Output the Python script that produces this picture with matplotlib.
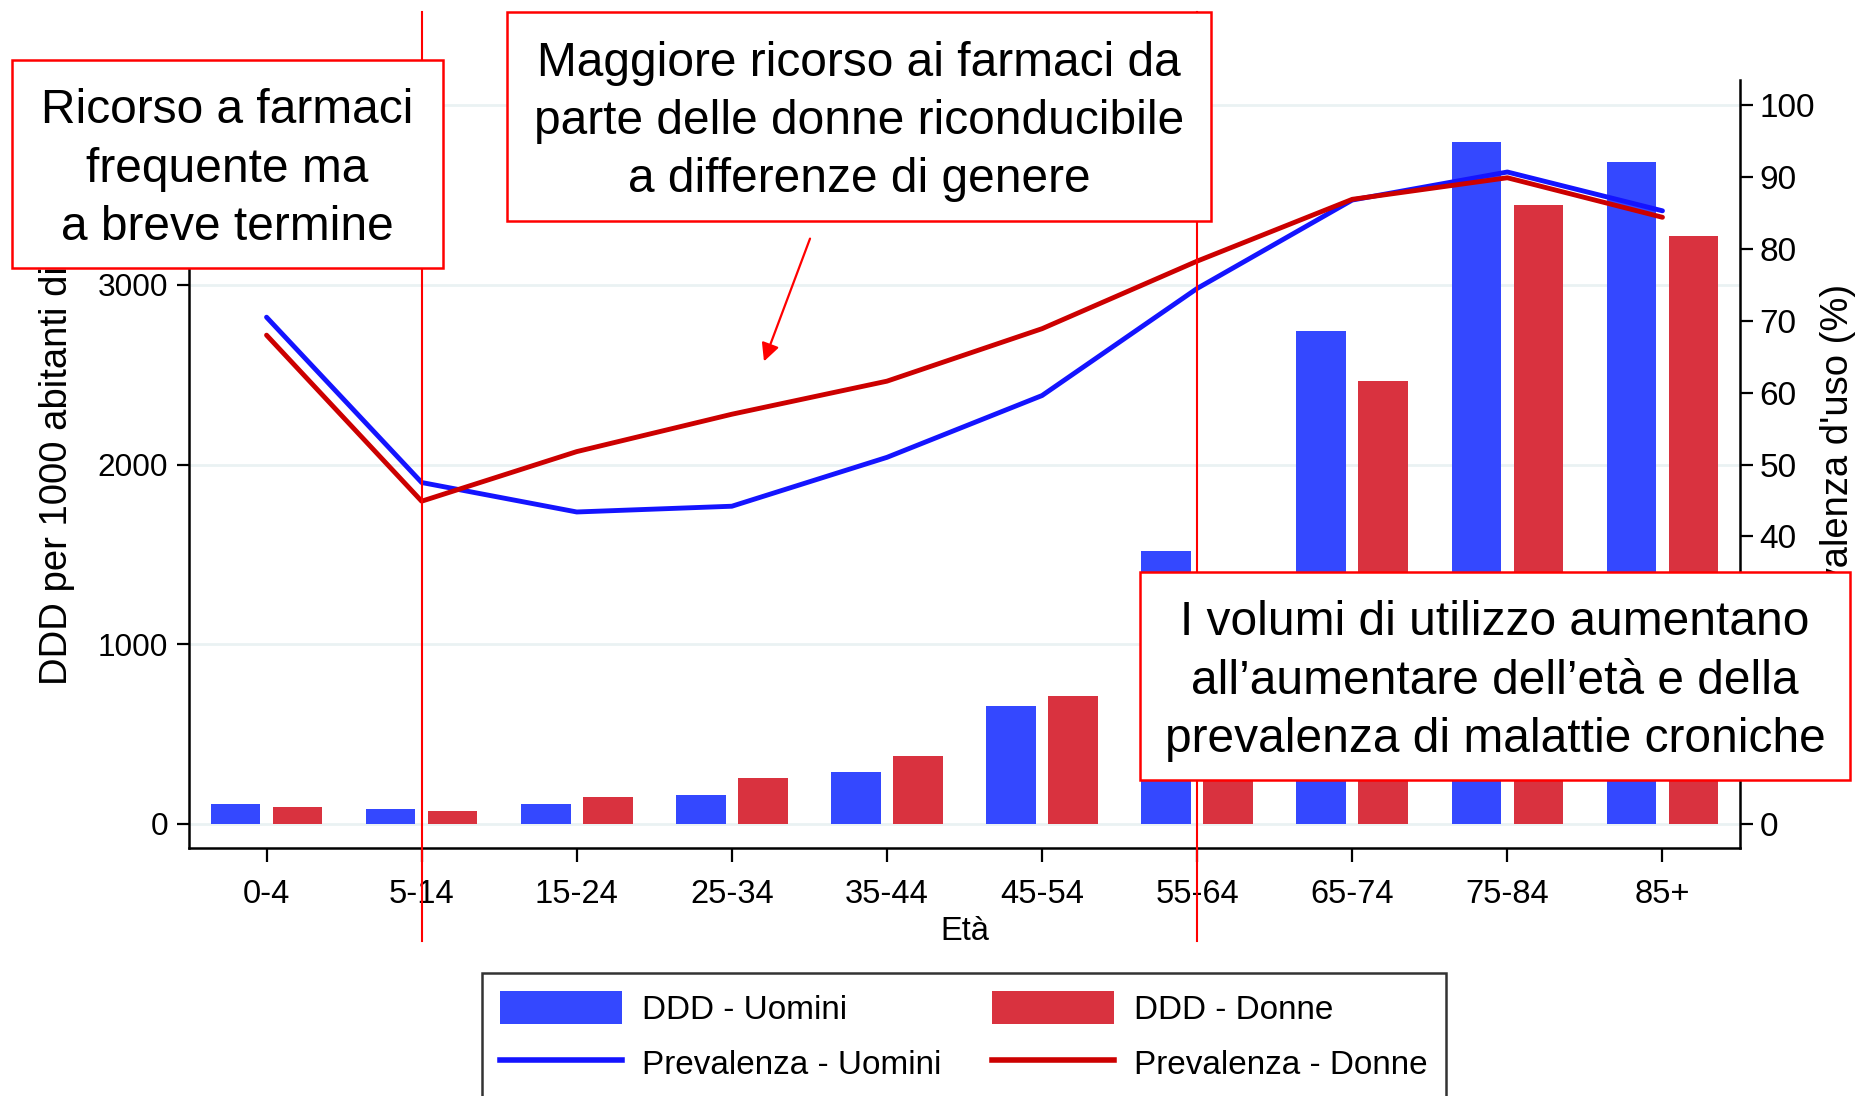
import matplotlib
matplotlib.use('Agg')
import matplotlib.pyplot as plt
from matplotlib import font_manager as fm
from matplotlib.patches import Rectangle, Patch, FancyArrowPatch
from matplotlib.lines import Line2D
import matplotlib.transforms as mtransforms
import numpy as np

# ---------------- data ----------------
fasce = ['0-4', '5-14', '15-24', '25-34', '35-44', '45-54', '55-64', '65-74', '75-84', '85+']
ddd_uomini = [110, 85, 113, 163, 289, 655, 1520, 2743, 3794, 3681]
ddd_donne = [93, 70, 150, 258, 380, 712, 1330, 2465, 3443, 3272]
prev_uomini = [70.5, 47.5, 43.4, 44.2, 51.0, 59.6, 74.5, 86.8, 90.7, 85.3]
prev_donne = [68.0, 44.9, 51.8, 57.0, 61.6, 68.9, 78.3, 86.9, 89.9, 84.4]
left_ticks = [0, 1000, 2000, 3000, 4000]
right_ticks = [0, 10, 20, 30, 40, 50, 60, 70, 80, 90, 100]
linee_verticali = ['5-14', '55-64']

testo_box1 = "Ricorso a farmaci\nfrequente ma\na breve termine"
testo_box2 = "Maggiore ricorso ai farmaci da\nparte delle donne riconducibile\na differenze di genere"
testo_box3 = "I volumi di utilizzo aumentano\nall\u2019aumentare dell\u2019et\u00e0 e della\nprevalenza di malattie croniche"
legend_labels = ['DDD - Uomini', 'Prevalenza - Uomini', 'DDD - Donne', 'Prevalenza - Donne']

# ---------------- style ----------------
avail = {f.name for f in fm.fontManager.ttflist}
NARROW_OK = 'Liberation Sans Narrow' in avail
NARROW = 'Liberation Sans Narrow' if NARROW_OK else 'Liberation Sans'
k = 1.0 if NARROW_OK else 0.84   # shrink regular font so widths match a narrow face
REG = 'Liberation Sans'
BLUE_BAR = '#3448FF'
RED_BAR = '#D9323F'
BLUE_LINE = '#1414FF'
RED_LINE = '#CC0000'
GRID = '#EAF2F3'
ANN = '#FF0000'

W, H = 1862, 1096
fig = plt.figure(figsize=(W / 100, H / 100), dpi=100)
fig.patch.set_facecolor('white')


def fx(px):
    return px / W


def fy(py):
    return 1 - py / H


ax_l, ax_r, ax_b, ax_t = 189, 1740, 848, 80
ax = fig.add_axes([fx(ax_l), fy(ax_b), (ax_r - ax_l) / W, (ax_b - ax_t) / H])
x = np.arange(len(fasce))

ax.bar(x - 0.2, ddd_uomini, 0.32, color=BLUE_BAR, zorder=2)
ax.bar(x + 0.2, ddd_donne, 0.32, color=RED_BAR, zorder=2)
ax.set_ylim(-134, 4140)
ax.set_xlim(-0.5, 9.5)
ax.set_yticks(left_ticks)
ax.set_yticklabels([str(t) for t in left_ticks], fontfamily=NARROW, fontsize=27 * k)
ax.set_xticks(x)
ax.set_xticklabels(fasce, fontfamily=NARROW, fontsize=28 * k)
ax.yaxis.grid(True, color=GRID, lw=2.0, zorder=0)
ax.set_axisbelow(True)
ax.tick_params(axis='y', direction='out', length=9, width=1.6, pad=6)
ax.tick_params(axis='x', direction='out', length=10, width=1.6, pad=12)
for s in ['top', 'right']:
    ax.spines[s].set_visible(False)
for s in ['left', 'bottom']:
    ax.spines[s].set_linewidth(1.8)
ax.set_xlabel('Et\u00e0', fontfamily=NARROW, fontsize=28 * k, labelpad=5)

ax2 = ax.twinx()
ax2.plot(x, prev_uomini, color=BLUE_LINE, lw=3.5, solid_capstyle='round', zorder=3)
ax2.plot(x, prev_donne, color=RED_LINE, lw=3.5, solid_capstyle='round', zorder=3)
lo, hi = ax.get_ylim()
ax2.set_ylim(lo / 40, hi / 40)
ax2.set_yticks(right_ticks)
ax2.set_yticklabels([str(t) for t in right_ticks], fontfamily=REG, fontsize=24)
ax2.tick_params(axis='y', direction='out', length=9, width=1.6, pad=5)
for s in ['top', 'left', 'bottom']:
    ax2.spines[s].set_visible(False)
ax2.spines['right'].set_linewidth(1.8)

# axis titles
fig.text(fx(57), fy(465), 'DDD per 1000 abitanti die', rotation=90, ha='center', va='center',
         fontfamily=REG, fontsize=27.5)
fig.text(fx(1838), fy(465), "Prevalenza d'uso (%)", rotation=90, ha='center', va='center',
         fontfamily=REG, fontsize=27.5)

# vertical reference lines
trans = mtransforms.blended_transform_factory(ax.transData, fig.transFigure)
for lab in linee_verticali:
    xi = fasce.index(lab)
    fig.add_artist(Line2D([xi, xi], [fy(12), fy(941)], transform=trans, color=ANN, lw=1.5, zorder=4))


# annotation boxes
def box(x0, y0, x1, y1, txt):
    fig.add_artist(Rectangle((fx(x0), fy(y1)), (x1 - x0) / W, (y1 - y0) / H, transform=fig.transFigure,
                             facecolor='white', edgecolor=ANN, lw=1.8, zorder=5))
    fig.text(fx((x0 + x1) / 2), fy((y0 + y1) / 2 + 5), txt, ha='center', va='center', fontfamily=NARROW,
             fontsize=41 * k, linespacing=1.38, zorder=6)


box(12, 60, 443, 268, testo_box1)
box(507, 12, 1211, 221, testo_box2)
box(1140, 572, 1850, 780, testo_box3)

# arrow
fig.add_artist(FancyArrowPatch((fx(811), fy(236)), (fx(763), fy(364)), transform=fig.transFigure,
                               arrowstyle='-|>', mutation_scale=27, color=ANN, lw=1.6, zorder=6))

# legend
fs_leg = 28.5 * k
handles = [Patch(facecolor=BLUE_BAR), Line2D([], [], color=BLUE_LINE, lw=4),
           Patch(facecolor=RED_BAR), Line2D([], [], color=RED_LINE, lw=4)]
leg = fig.legend(handles, legend_labels, ncol=2, loc='upper left',
                 bbox_to_anchor=(fx(482), fy(1100), (1446 - 482) / W, (1100 - 973) / H),
                 mode='expand', borderaxespad=0, prop={'family': NARROW, 'size': fs_leg},
                 handlelength=122 / (fs_leg * 100 / 72), handleheight=38 / (fs_leg * 100 / 72),
                 handletextpad=0.6, labelspacing=0.62, columnspacing=1.4, borderpad=0.55,
                 fancybox=False, frameon=True)
leg.get_frame().set_edgecolor('black')
leg.get_frame().set_linewidth(1.8)

fig.savefig('out.png', dpi=100, facecolor='white')
